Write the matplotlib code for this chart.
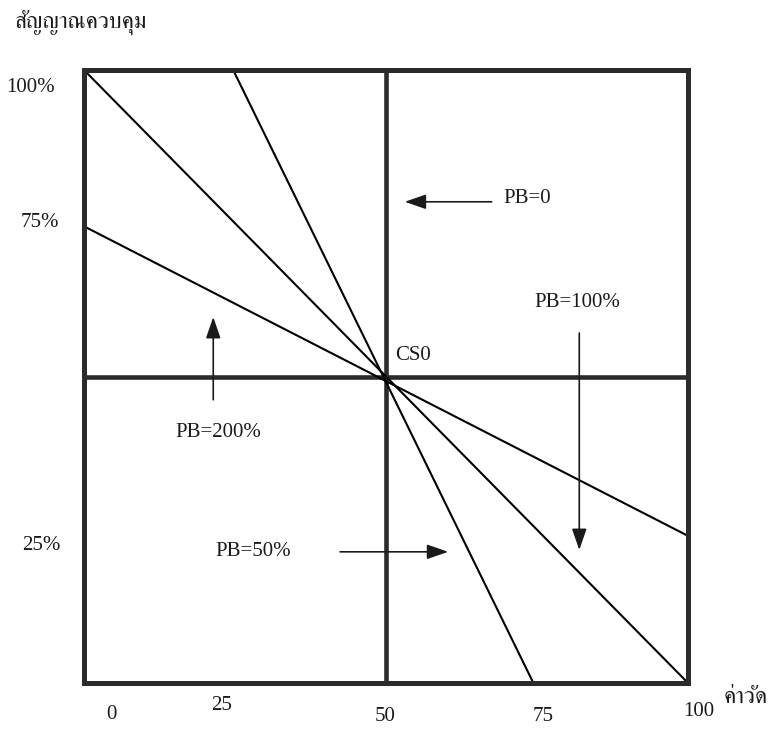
import matplotlib
matplotlib.use("Agg")
import matplotlib.pyplot as plt
from matplotlib import font_manager
from matplotlib.ft2font import FT2Font

# ---- data ----
y_label_text = "สัญญาณควบคุม"
x_label_text = "ค่าวัด"
x_tick_labels = ["0", "25", "50", "75", "100"]
y_tick_labels = ["100%", "75%", "25%"]

cs0 = 50          # control signal at set point
pb0_x = 50        # PB=0 -> vertical line
pb50_x = [24.7, 74.4]
pb50_y = [100, 0]
pb100_x = [0, 100]
pb100_y = [100, 0]
pb200_x = [0, 100]
pb200_y = [74.5, 24]


def thai_font():
    # pick an installed font that has the Thai glyphs we need
    need = set(ord(c) for c in y_label_text + x_label_text)
    found = []
    for f in font_manager.fontManager.ttflist:
        try:
            cmap = FT2Font(f.fname).get_charmap()
        except Exception:
            continue
        if need <= set(cmap):
            found.append(f.name)
    serif = [n for n in found if "Serif" in n]
    if serif:
        return serif[0]
    if found:
        return found[0]
    return "DejaVu Sans"


THAI = thai_font()
SERIF = "Liberation Serif"

fig = plt.figure(figsize=(7.8, 7.29), dpi=100)
# box spans pixels x 84..688, y 70..683
ax = fig.add_axes([84 / 780, 1 - 683 / 729, 604 / 780, 613 / 729])
ax.set_xlim(0, 100)
ax.set_ylim(0, 100)
ax.set_xticks([])
ax.set_yticks([])
for s in ax.spines.values():
    s.set_linewidth(3.6)
    s.set_color("#2b2b2b")

ax.axvline(pb0_x, color="#2b2b2b", lw=3.3)
ax.axhline(cs0, color="#2b2b2b", lw=3.3)

for xs, ys in [(pb50_x, pb50_y), (pb100_x, pb100_y), (pb200_x, pb200_y)]:
    ax.plot(xs, ys, color="black", lw=1.5, clip_on=False)

fs = 15
tkw = dict(family=[SERIF, "DejaVu Sans"], fontsize=fs, color="#1a1a1a",
           ha="center", va="center", clip_on=False)

# y tick labels
for lab, (x, y) in zip(y_tick_labels, [(-8.9, 97.2), (-7.3, 75.2), (-7.1, 22.5)]):
    ax.text(x, y, lab, **tkw)
# x tick labels (hand placed in the original)
for lab, (x, y) in zip(x_tick_labels, [(4.6, -5.2), (22.7, -3.6), (49.8, -5.4),
                                       (76.0, -5.4), (101.8, -4.7)]):
    ax.text(x, y, lab, **tkw)

ax.text(-11.4, 107.7, y_label_text, family=[THAI, "DejaVu Sans"], fontsize=16.5,
        color="#1a1a1a", ha="left", va="center", clip_on=False)
ax.text(109.5, -2.3, x_label_text, family=[THAI, "DejaVu Sans"], fontsize=16.5,
        color="#1a1a1a", ha="center", va="center", clip_on=False)

# annotations
ax.text(73.3, 79.0, "PB=0", **tkw)
ax.text(54.5, 53.5, "CS0", **tkw)
ax.text(22.2, 40.8, "PB=200%", **tkw)
ax.text(81.6, 62.0, "PB=100%", **tkw)
ax.text(28.0, 21.4, "PB=50%", **tkw)

akw = dict(arrowstyle="-|>,head_length=1.3,head_width=0.45", color="#1a1a1a",
           lw=1.2, shrinkA=0, shrinkB=0)
for start, end in [((67.5, 78.5), (53.1, 78.5)),
                   ((21.4, 46.2), (21.4, 59.7)),
                   ((82.0, 57.1), (82.0, 21.7)),
                   ((42.4, 21.4), (60.3, 21.4))]:
    ax.annotate("", xy=end, xytext=start, arrowprops=akw)

fig.savefig("out.png", dpi=100)
